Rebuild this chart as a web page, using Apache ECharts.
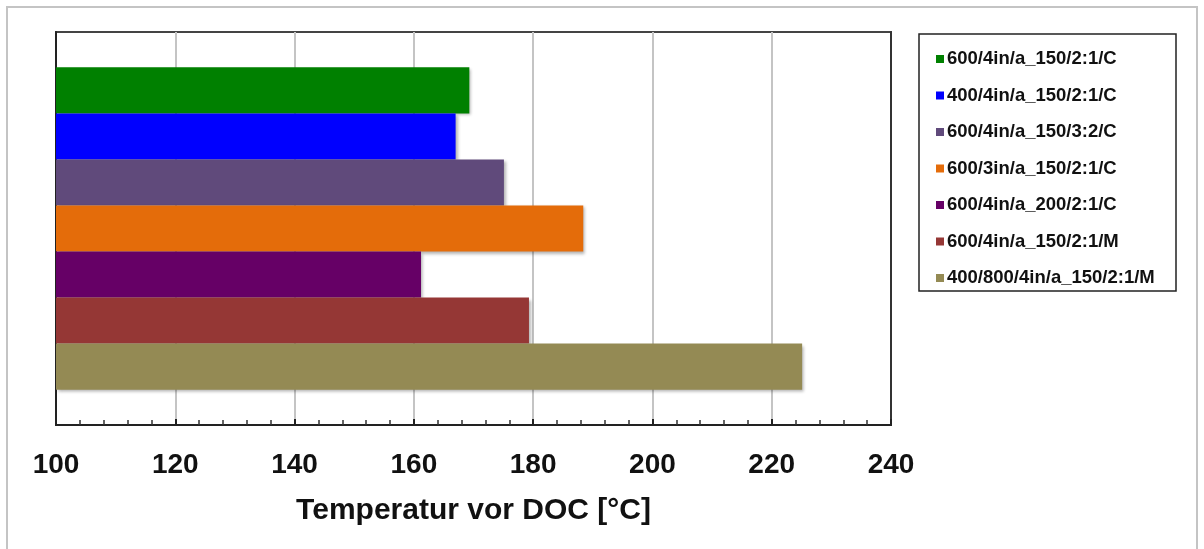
<!DOCTYPE html>
<html>
<head>
<meta charset="utf-8">
<script src="https://cdn.jsdelivr.net/npm/echarts@6/dist/echarts.min.js"></script>
<style>
  html, body { margin: 0; padding: 0; background: #ffffff; }
  #chart { width: 1204px; height: 549px; }
</style>
</head>
<body>
<div id="chart"></div>
<script>
// Temperature before the DOC for each configuration
const configNames = [
  '600/4in/a_150/2:1/C',
  '400/4in/a_150/2:1/C',
  '600/4in/a_150/3:2/C',
  '600/3in/a_150/2:1/C',
  '600/4in/a_200/2:1/C',
  '600/4in/a_150/2:1/M',
  '400/800/4in/a_150/2:1/M'
];
const temperatures = [169.3, 167.0, 175.1, 188.4, 161.2, 179.3, 225.1];
const barColors = ['#008000', '#0000ff', '#604a7b', '#e46c0a', '#660066', '#953735', '#948a54'];
const axisTitle = 'Temperatur vor DOC [°C]';
const xMin = 100, xMax = 240, xStep = 20;

const chart = echarts.init(document.getElementById('chart'));
const FONT = '"Liberation Sans", Arial, sans-serif';

const series = configNames.map((name, i) => ({
  name: name,
  type: 'bar',
  data: [temperatures[i]],
  barGap: '0%',
  barCategoryGap: '18%',
  itemStyle: {
    color: barColors[i],
    shadowColor: 'rgba(0,0,0,0.3)',
    shadowBlur: 3,
    shadowOffsetX: 2,
    shadowOffsetY: 2
  },
  emphasis: { disabled: true }
}));

chart.setOption({
  animation: false,
  backgroundColor: '#ffffff',
  graphic: [
    { type: 'rect', shape: { x: 7, y: 7, width: 1190, height: 560 }, style: { fill: 'none', stroke: '#c4c4c4', lineWidth: 2 }, z: -1 },
    { type: 'rect', shape: { x: 919, y: 34, width: 257, height: 257 }, style: { fill: '#ffffff', stroke: '#222222', lineWidth: 1.5 }, z: 0 }
  ],
  grid: {
    left: 56, top: 32, right: 313, bottom: 124,
    show: true, borderColor: '#444444', borderWidth: 2, backgroundColor: 'transparent'
  },
  legend: {
    orient: 'vertical',
    left: 931, top: 44,
    itemWidth: 8, itemHeight: 8, itemGap: 16.5,
    icon: 'rect',
    data: configNames,
    selectedMode: false,
    textStyle: { fontFamily: FONT, fontWeight: 'bold', fontSize: 18.5, color: '#111111', lineHeight: 20, padding: [0, 0, 0, -2] },
    z: 5
  },
  xAxis: [{
    type: 'value',
    min: xMin, max: xMax, interval: xStep,
    name: axisTitle,
    nameLocation: 'middle',
    nameGap: 71,
    nameTextStyle: { fontFamily: FONT, fontWeight: 'bold', fontSize: 30, color: '#111111' },
    axisLine: { show: true, lineStyle: { color: '#222222', width: 2 } },
    axisTick: { show: true, inside: true, length: 6, lineStyle: { color: '#222222', width: 2 } },
    minorTick: { show: true, splitNumber: 5, length: 5, lineStyle: { color: '#333333', width: 1.5 } },
    splitLine: { show: true, lineStyle: { color: '#c4c4c4', width: 2 } },
    axisLabel: { fontFamily: FONT, fontWeight: 'bold', fontSize: 28, color: '#111111', margin: 26 }
  }],
  yAxis: [{
    type: 'category',
    data: [''],
    inverse: true,
    axisLine: { show: true, lineStyle: { color: '#222222', width: 2 } },
    axisTick: { show: false },
    axisLabel: { show: false },
    splitLine: { show: false }
  }, {
    // right-hand frame edge of the plot area
    type: 'category',
    data: [''],
    position: 'right',
    axisLine: { show: true, lineStyle: { color: '#333333', width: 2 } },
    axisTick: { show: false },
    axisLabel: { show: false },
    splitLine: { show: false }
  }],
  series: series
});
</script>
</body>
</html>
